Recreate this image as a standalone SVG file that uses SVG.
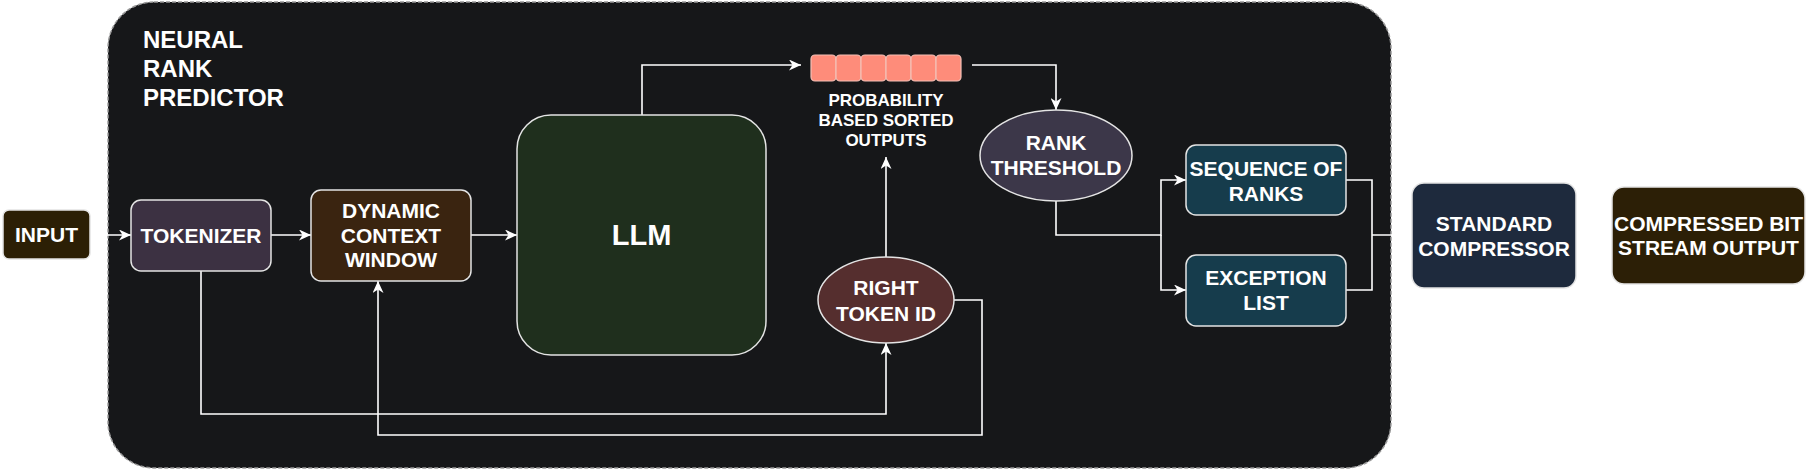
<svg xmlns="http://www.w3.org/2000/svg" width="1808" height="472" viewBox="0 0 1808 472">
<style>
.t{font-family:"Liberation Sans",Arial,sans-serif;font-weight:bold;fill:#ffffff;text-anchor:middle;font-size:21px}
.s{font-size:17px}
.n{stroke:#e4e4e4;stroke-width:1.5}
.c{fill:none;stroke:#ffffff;stroke-width:1.6}
</style>
<defs>
<marker id="a" markerUnits="userSpaceOnUse" markerWidth="13" markerHeight="11" refX="12" refY="5.5" orient="auto">
<path d="M0,0 L12,5.5 L0,11 L3.5,5.5 Z" fill="#ffffff"/>
</marker>
</defs>
<rect id="container" x="108" y="2" width="1283" height="466" rx="46" fill="#161719" stroke="#9a9a9a" stroke-width="1.5" stroke-dasharray="4 2"/>
<text class="t" style="text-anchor:start;font-size:24px"><tspan x="143" y="48">NEURAL</tspan><tspan x="143" y="77">RANK</tspan><tspan x="143" y="106">PREDICTOR</tspan></text>
<g id="connectors">
<path class="c" d="M90,235 L131,235" marker-end="url(#a)"/>
<path class="c" d="M271,235 L311,235" marker-end="url(#a)"/>
<path class="c" d="M471,235 L517,235" marker-end="url(#a)"/>
<path class="c" d="M642,115 L642,65 L801,65" marker-end="url(#a)"/>
<path class="c" d="M972,65 L1056,65 L1056,110" marker-end="url(#a)"/>
<path class="c" d="M1056,201 L1056,235 L1161,235 L1161,180 L1186,180" marker-end="url(#a)"/>
<path class="c" d="M1161,235 L1161,290 L1186,290" marker-end="url(#a)"/>
<path class="c" d="M1346,180 L1372,180 L1372,290 L1346,290"/>
<path class="c" d="M1372,235 L1412,235" marker-end="url(#a)"/>
<path class="c" d="M1576,235 L1612,235" marker-end="url(#a)"/>
<path class="c" d="M886,257 L886,157" marker-end="url(#a)"/>
<path class="c" d="M201,271 L201,414 L886,414 L886,343" marker-end="url(#a)"/>
<path class="c" d="M954,300 L982,300 L982,435 L378,435 L378,281" marker-end="url(#a)"/>
</g>
<g id="input">
<rect class="n" x="3" y="210" width="87" height="49" rx="6" fill="#2c1f05"/>
<text class="t" x="46.5" y="242">INPUT</text>
</g>
<g id="tokenizer">
<rect class="n" x="131" y="200" width="140" height="71" rx="10" fill="#3c3142"/>
<text class="t" x="201" y="243">TOKENIZER</text>
</g>
<g id="dcw">
<rect class="n" x="311" y="190" width="160" height="91" rx="10" fill="#3a2410"/>
<text class="t"><tspan x="391" y="218">DYNAMIC</tspan><tspan x="391" y="243">CONTEXT</tspan><tspan x="391" y="267">WINDOW</tspan></text>
</g>
<g id="llm">
<rect class="n" x="517" y="115" width="249" height="240" rx="34" fill="#1f2f1d"/>
<text class="t" x="641.5" y="245" style="font-size:29px">LLM</text>
</g>
<g id="prob">
<g fill="#fe8c7a" stroke="#f3c0b6" stroke-width="1.2">
<rect x="811" y="55" width="25" height="26" rx="4"/>
<rect x="836" y="55" width="25" height="26" rx="4"/>
<rect x="861" y="55" width="25" height="26" rx="4"/>
<rect x="886" y="55" width="25" height="26" rx="4"/>
<rect x="911" y="55" width="25" height="26" rx="4"/>
<rect x="936" y="55" width="25" height="26" rx="4"/>
</g>
<text class="t s"><tspan x="886" y="106">PROBABILITY</tspan><tspan x="886" y="126">BASED SORTED</tspan><tspan x="886" y="146">OUTPUTS</tspan></text>
</g>
<g id="rank">
<ellipse class="n" cx="1056" cy="155.5" rx="76" ry="45.5" fill="#3c3749"/>
<text class="t"><tspan x="1056" y="149.5">RANK</tspan><tspan x="1056" y="174.5">THRESHOLD</tspan></text>
</g>
<g id="seq">
<rect class="n" x="1186" y="145" width="160" height="70" rx="10" fill="#163c4c"/>
<text class="t"><tspan x="1266" y="175.5">SEQUENCE OF</tspan><tspan x="1266" y="200.5">RANKS</tspan></text>
</g>
<g id="exc">
<rect class="n" x="1186" y="255" width="160" height="71" rx="10" fill="#163c4c"/>
<text class="t"><tspan x="1266" y="284.5">EXCEPTION</tspan><tspan x="1266" y="309.5">LIST</tspan></text>
</g>
<g id="rti">
<ellipse class="n" cx="886" cy="300" rx="68" ry="43" fill="#552e2e"/>
<text class="t"><tspan x="886" y="294.5">RIGHT</tspan><tspan x="886" y="320.5">TOKEN ID</tspan></text>
</g>
<g id="std">
<rect class="n" x="1412" y="183" width="164" height="105" rx="12" fill="#1e2a3d"/>
<text class="t"><tspan x="1494" y="230.5">STANDARD</tspan><tspan x="1494" y="255.5">COMPRESSOR</tspan></text>
</g>
<g id="out">
<rect class="n" x="1612" y="187" width="193" height="97" rx="12" fill="#2c1f06"/>
<text class="t"><tspan x="1708.5" y="230.5">COMPRESSED BIT</tspan><tspan x="1708.5" y="254.5">STREAM OUTPUT</tspan></text>
</g>
</svg>
